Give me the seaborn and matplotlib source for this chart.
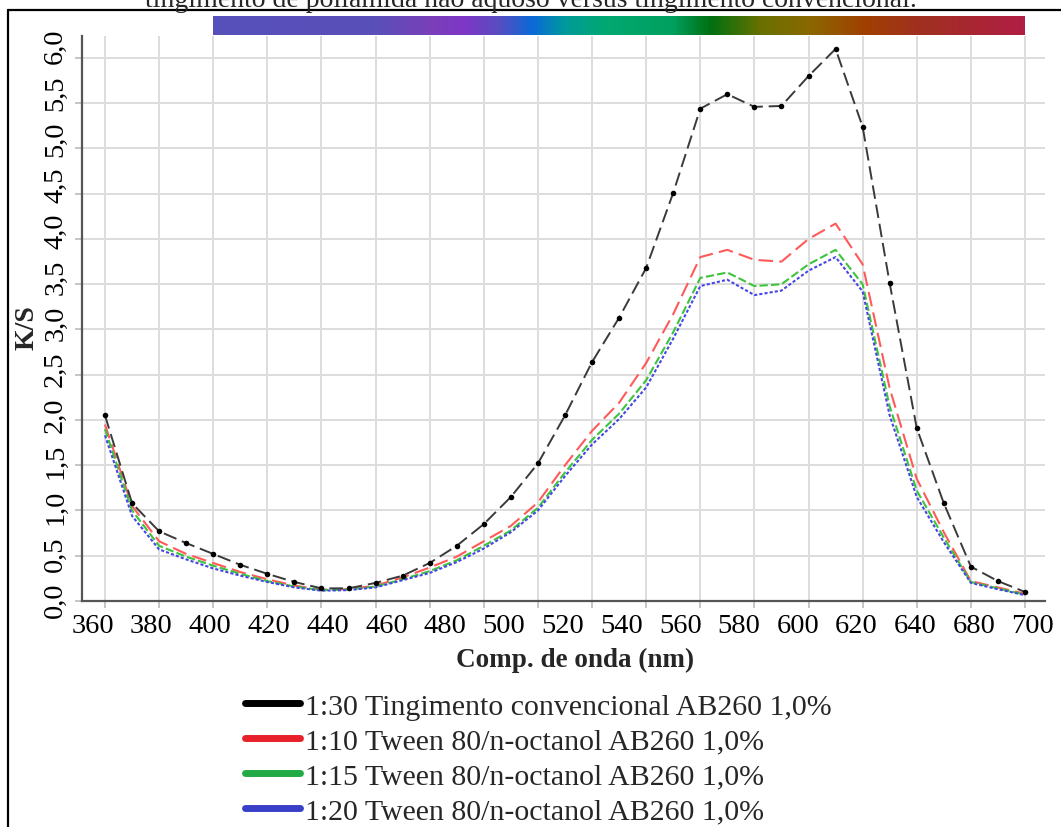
import numpy as np
import pandas as pd
import matplotlib
matplotlib.use("Agg")
import matplotlib.pyplot as plt
import seaborn as sns
from matplotlib.colors import LinearSegmentedColormap
from matplotlib.lines import Line2D

# ---------------- data ----------------
wavelengths = [360, 370, 380, 390, 400, 410, 420, 430, 440, 450, 460, 470, 480, 490,
               500, 510, 520, 530, 540, 550, 560, 570, 580, 590, 600, 610, 620, 630,
               640, 650, 660, 670, 680, 690, 700]

ks_conv_130 = [2.05, 1.08, 0.77, 0.64, 0.52, 0.40, 0.30, 0.21, 0.14, 0.14, 0.20, 0.28, 0.42, 0.61,
               0.85, 1.15, 1.52, 2.05, 2.64, 3.13, 3.68, 4.51, 5.44, 5.60, 5.46, 5.47, 5.80, 6.10,
               5.24, 3.51, 1.91, 1.08, 0.38, 0.22, 0.10]

ks_tween_110 = [1.95, 1.05, 0.66, 0.52, 0.42, 0.32, 0.24, 0.17, 0.125, 0.13, 0.17, 0.26, 0.37, 0.49,
                0.66, 0.83, 1.09, 1.50, 1.88, 2.19, 2.63, 3.17, 3.80, 3.88, 3.77, 3.75, 4.00, 4.17,
                3.72, 2.35, 1.35, 0.76, 0.22, 0.15, 0.08]

ks_tween_115 = [1.90, 1.00, 0.61, 0.49, 0.39, 0.30, 0.22, 0.16, 0.12, 0.125, 0.16, 0.24, 0.33, 0.45,
                0.61, 0.78, 1.03, 1.42, 1.78, 2.07, 2.44, 2.97, 3.57, 3.63, 3.48, 3.50, 3.72, 3.88,
                3.50, 2.15, 1.22, 0.70, 0.21, 0.14, 0.07]

ks_tween_120 = [1.83, 0.94, 0.57, 0.46, 0.36, 0.28, 0.21, 0.15, 0.114, 0.12, 0.15, 0.23, 0.31, 0.43,
                0.58, 0.76, 1.00, 1.38, 1.73, 2.01, 2.36, 2.90, 3.48, 3.55, 3.38, 3.43, 3.65, 3.80,
                3.42, 2.05, 1.15, 0.65, 0.20, 0.13, 0.065]

series_labels = ["1:30 Tingimento convencional AB260 1,0%",
                 "1:10 Tween 80/n-octanol AB260 1,0%",
                 "1:15 Tween 80/n-octanol AB260 1,0%",
                 "1:20 Tween 80/n-octanol AB260 1,0%"]

x_grid_ticks = list(range(360, 701, 20))
x_tick_labels = ["360", "380", "400", "420", "440", "460", "480", "500", "520",
                 "540", "560", "580", "600", "620", "640", "680", "700"]
y_grid_ticks = [0.0, 0.5, 1.0, 1.5, 2.0, 2.5, 3.0, 3.5, 4.0, 4.5, 5.0, 5.5, 6.0]
y_tick_labels = ["0,0", "0,5", "1,0", "1,5", "2,0", "2,5", "3,0", "3,5",
                 "4,0", "4,5", "5,0", "5,5", "6,0"]

spectrum_nm = [400, 460, 480, 492, 505, 518, 530, 545, 570, 584, 603, 621, 641, 661, 700]
spectrum_colors = ["#5750bb", "#5a4fb9", "#7a40b8", "#7e36c6", "#5a4cc0", "#0a6ad8",
                   "#009a9a", "#00a870", "#00a060", "#007010", "#6a7000", "#8a6800",
                   "#a04000", "#a03020", "#b01e44"]

title_text = "tingimento de poliamida não aquoso versus tingimento convencional."
xlabel_text = "Comp. de onda (nm)"
ylabel_text = "K/S"

# ---------------- style ----------------
sns.set_theme(style="white")
plt.rcParams["font.family"] = ["Liberation Serif", "DejaVu Serif"]

W, H = 1061, 828
fig = plt.figure(figsize=(W / 100, H / 100), dpi=100)
ax_l, ax_r, ax_b, ax_t = 82, 1045, 602, 37
ax = fig.add_axes([ax_l / W, 1 - ax_b / H, (ax_r - ax_l) / W, (ax_b - ax_t) / H])

df = pd.DataFrame({"nm": wavelengths, "conv": ks_conv_130, "t110": ks_tween_110,
                   "t115": ks_tween_115, "t120": ks_tween_120})

sns.lineplot(data=df, x="nm", y="t110", ax=ax, color="#ff5a5a", lw=1.5,
             linestyle=(0, (7, 3)))
sns.lineplot(data=df, x="nm", y="t115", ax=ax, color="#3cc43c", lw=1.5,
             linestyle=(0, (4, 1.5)))
sns.lineplot(data=df, x="nm", y="t120", ax=ax, color="#4646e6", lw=1.5,
             linestyle=(0, (1.5, 1)))
sns.lineplot(data=df, x="nm", y="conv", ax=ax, color="#3a3a3a", lw=1.4,
             linestyle=(0, (7, 3)), marker="o", markersize=4,
             markeredgewidth=0, markerfacecolor="black")

ax.set_xlim(351.5, 707.4)
ax.set_ylim(0, 6.243)

# grid on minor ticks (true data scale)
ax.set_xticks(x_grid_ticks, minor=True)
ax.set_yticks(y_grid_ticks, minor=True)
ax.grid(which="minor", color="#dddddd", lw=1.4)
ax.grid(which="major", visible=False)

# label positions as they appear in the reference
ax.set_xticks(np.linspace(355.4, 702.9, len(x_tick_labels)))
ax.set_xticklabels(x_tick_labels)
ax.set_yticks(np.linspace(0.022, 6.136, len(y_tick_labels)))
ax.set_yticklabels(y_tick_labels, rotation=90, va="center")
ax.tick_params(which="major", length=0, labelsize=20.5, colors="black")
ax.tick_params(axis="x", which="major", pad=9)
ax.tick_params(axis="y", which="major", pad=10)
ax.tick_params(which="minor", length=5, width=1.2, color="#bbbbbb",
               bottom=True, left=True)

for s in ["top", "right"]:
    ax.spines[s].set_visible(False)
for s in ["left", "bottom"]:
    ax.spines[s].set_color("#555555")
    ax.spines[s].set_linewidth(1.6)
ax.set_xlabel("")
ax.set_ylabel("")

fig.text(575 / W, 1 - 660 / H, xlabel_text, ha="center", va="center",
         fontsize=19.5, fontweight="bold")
fig.text(27 / W, 1 - 328 / H, ylabel_text, ha="center", va="center",
         rotation=90, fontsize=20, fontweight="bold")

# spectrum bar
cmap = LinearSegmentedColormap.from_list(
    "spec", [((n - spectrum_nm[0]) / (spectrum_nm[-1] - spectrum_nm[0]), c)
             for n, c in zip(spectrum_nm, spectrum_colors)])
bar_ax = fig.add_axes([ax_l / W, 1 - 36 / H, (ax_r - ax_l) / W, 19 / H], sharex=ax)
bar_ax.imshow(np.linspace(0, 1, 600)[None, :], cmap=cmap, aspect="auto",
              extent=[spectrum_nm[0], spectrum_nm[-1], 0, 1])
bar_ax.set_ylim(0, 1)
bar_ax.axis("off")
ax.set_xlim(351.5, 707.4)

# legend
colors_leg = ["#000000", "#e8202a", "#22aa44", "#3a3fc8"]
handles = [Line2D([], [], color=c, lw=5) for c in colors_leg]
fig.legend(handles, series_labels, loc="upper left",
           bbox_to_anchor=(245 / W, 1 - 694 / H), frameon=False, fontsize=21.5,
           handlelength=1.84, handletextpad=0.17, labelspacing=0.27,
           borderpad=0, borderaxespad=0)

# title fragment and document frame
fig.text(0.5, 1 - 7 / H, title_text, ha="center", va="baseline", fontsize=20)
fig.add_artist(Line2D([8 / W, 8 / W], [0, 1 - 11 / H], color="black", lw=1.6,
                      transform=fig.transFigure))
fig.add_artist(Line2D([8 / W, 1], [1 - 11 / H, 1 - 11 / H], color="black", lw=1.6,
                      transform=fig.transFigure))

fig.savefig("out.png", dpi=100)
